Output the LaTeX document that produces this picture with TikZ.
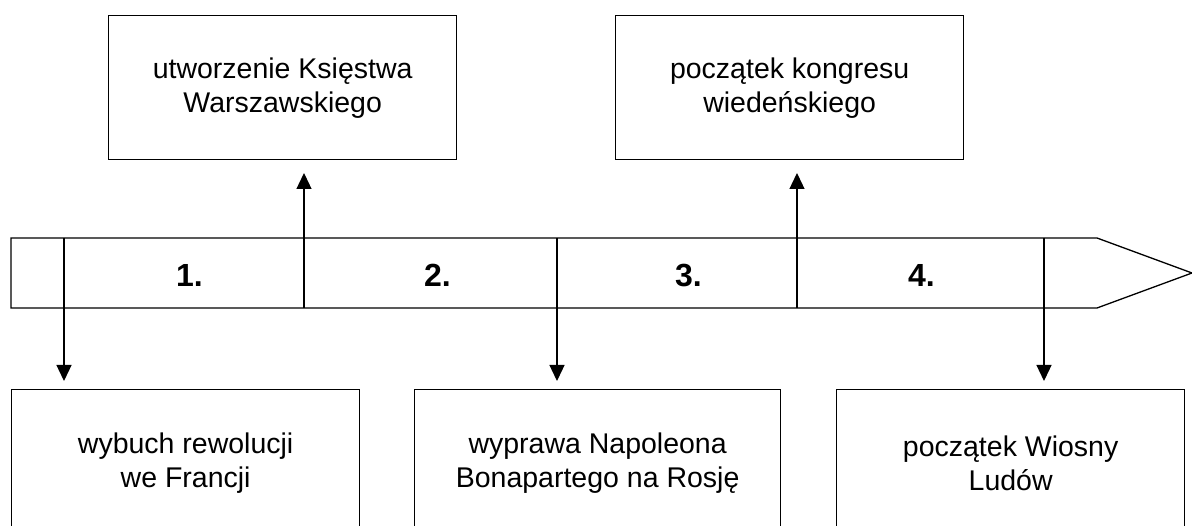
\documentclass[tikz,border=0pt]{standalone}
\usepackage{fontspec}
\setmainfont{Liberation Sans}
\usetikzlibrary{arrows.meta}
\begin{document}
\begin{tikzpicture}[x=1pt,y=-1pt,
  line width=1.3pt,
  evbox/.style={draw, line width=1.3pt, inner sep=0pt, anchor=north west, align=center,
    font=\fontsize{28.5}{34}\selectfont},
  num/.style={font=\bfseries\fontsize{32}{38}\selectfont, inner sep=0pt, anchor=base},
  arr/.style={-{Triangle[width=15pt,length=16pt]}, line width=1.3pt}]
\useasboundingbox (0,0) rectangle (1192,526);
% timeline band
\coordinate (b1) at (11,238);
\coordinate (b2) at (1097,238);
\coordinate (b3) at (1192,273);
\coordinate (b4) at (1097,308);
\coordinate (b5) at (11,308);
\draw (b1) -- (b2) -- (b3) -- (b4) -- (b5) -- cycle;
% dividers
\foreach \n/\x in {d1/64,d2/304,d3/557,d4/797,d5/1044}{
  \coordinate (\n t) at (\x,238);
  \coordinate (\n b) at (\x,308);
  \draw (\n t) -- (\n b);
}
% numbers
\node[num] (n1) at (189.5,287) {1.};
\node[num] (n2) at (437.5,287) {2.};
\node[num] (n3) at (688.5,287) {3.};
\node[num] (n4) at (921.5,287) {4.};
% top boxes
\node[evbox, minimum width=348pt, minimum height=144pt] (top1) at (108,15)
  {utworzenie Księstwa\\Warszawskiego};
\node[evbox, minimum width=348pt, minimum height=144pt] (top2) at (615,15)
  {początek kongresu\\wiedeńskiego};
% bottom boxes
\node[evbox, minimum width=348pt, minimum height=147pt] (bot1) at (11,389)
  {wybuch rewolucji\\we Francji};
\node[evbox, minimum width=366pt, minimum height=147pt] (bot2) at (414,389)
  {wyprawa Napoleona\\Bonapartego na Rosję};
\node[evbox, minimum width=348pt, minimum height=147pt] (bot3) at (836,389)
  {początek Wiosny\\Ludów};
% arrow ends
\coordinate (u2) at (304,173);
\coordinate (u4) at (797,173);
\coordinate (l1) at (64,381);
\coordinate (l3) at (557,381);
\coordinate (l5) at (1044,381);
\draw[arr] (d2t) -- (u2);
\draw[arr] (d4t) -- (u4);
\draw[arr] (d1b) -- (l1);
\draw[arr] (d3b) -- (l3);
\draw[arr] (d5b) -- (l5);
\end{tikzpicture}
\end{document}
